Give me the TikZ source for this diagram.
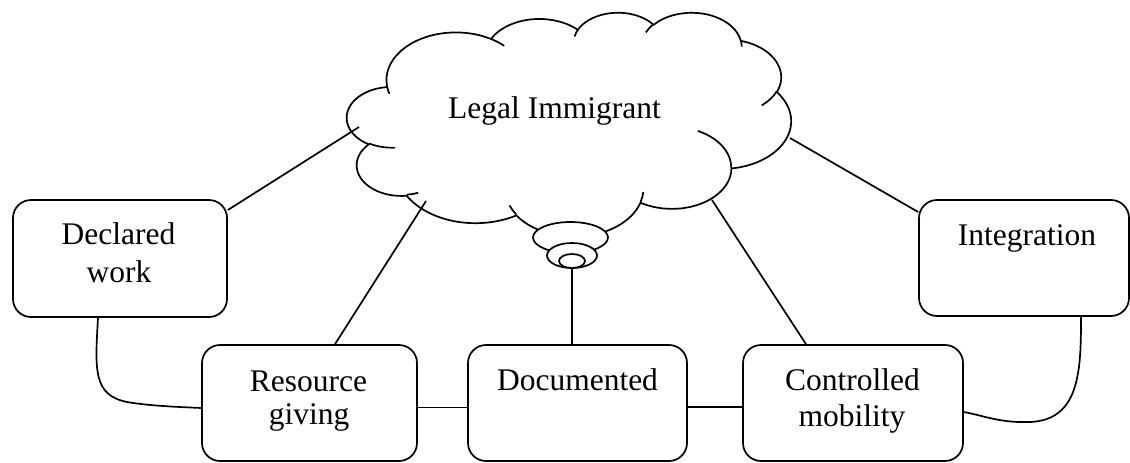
\documentclass[tikz,border=0pt]{standalone}
\usepackage{fontspec}
\setmainfont{Liberation Serif}
\usetikzlibrary{calc,shapes.geometric}
\newcommand\cldarc[4]{arc[x radius=#1, y radius=#2, start angle={atan2(#1*sin(#3),#2*cos(#3))}, delta angle={mod(atan2(#1*sin(#3+#4),#2*cos(#3+#4))-atan2(#1*sin(#3),#2*cos(#3))+720,360)}]}
\begin{document}
\begin{tikzpicture}[x=1pt,y=-1pt,line width=1.7pt,line join=round,
  box/.style={draw,rounded corners=18pt,fill=white,inner sep=0pt},
  bub/.style={draw,ellipse,fill=white,inner sep=0pt},
  lbl/.style={anchor=base,inner sep=0pt,font=\fontsize{31.5}{36}\selectfont}]
\useasboundingbox (0,0) rectangle (1130,463);
% cloud
\begin{scope}[shift={(347,12)},xscale=10.278,yscale=5.18]
\draw[fill=white] (3.9,14.37)
  \cldarc{6.753}{9.190}{-190.4875}{123.7805}
  \cldarc{5.333}{7.267}{-144.1024}{89.9452}
  \cldarc{4.365}{5.945}{-145.8079}{99.7230}
  \cldarc{4.857}{6.595}{-130.9861}{117.2417}
  \cldarc{5.333}{7.273}{-78.7089}{109.0269}
  \cldarc{6.775}{9.220}{-46.2673}{130.2690}
  \cldarc{5.785}{7.867}{0.6250}{114.0333}
  \cldarc{6.752}{9.215}{22.4516}{115.1726}
  \cldarc{7.720}{10.543}{66.2426}{75.7110}
  \cldarc{4.360}{5.918}{-274.9421}{146.7356}
  \cldarc{4.345}{5.945}{-246.8285}{152.5189} -- cycle;
\draw (4.693,26.177) \cldarc{4.345}{5.945}{86.7420}{26.4295}
  (6.928,34.899) \cldarc{4.360}{5.918}{73.6105}{11.4475}
  (16.478,39.090) \cldarc{6.752}{9.215}{137.6242}{14.0811}
  (28.827,34.751) \cldarc{6.752}{9.215}{6.4533}{15.9984}
  (34.129,22.954) \cldarc{5.785}{7.867}{-70.2924}{70.9174}
  (41.798,15.354) \cldarc{5.333}{7.273}{30.3180}{27.7515}
  (38.324,5.426) \cldarc{4.857}{6.595}{-13.7443}{14.8589}
  (29.078,3.952) \cldarc{4.857}{6.595}{-149.1815}{18.1954}
  (22.141,4.720) \cldarc{4.365}{5.945}{-163.4943}{17.6864}
  (14.000,5.192) \cldarc{6.753}{9.190}{-66.7070}{12.3194}
  (4.127,15.789) \cldarc{6.753}{9.190}{157.6544}{11.8582};
\end{scope}
\node[lbl] (li) at (554.5,118) {Legal Immigrant};
% callout bubbles
\node[bub,minimum width=75,minimum height=31] (t1) at (570.5,237.5) {};
\node[bub,minimum width=50,minimum height=25] (t2) at (572,255.5) {};
\node[bub,minimum width=26,minimum height=14] (t3) at (572,261) {};
% boxes
\node[box,minimum width=214,minimum height=117] (dw) at (120,258.5) {};
\node[box,minimum width=210,minimum height=116] (integ) at (1024,258) {};
\node[box,minimum width=215,minimum height=116] (rg) at (309.5,403) {};
\node[box,minimum width=219,minimum height=116] (doc) at (577.5,403) {};
\node[box,minimum width=220,minimum height=116] (cm) at (853,403) {};
% labels
\node[lbl] (dw1) at (118.5,244.5) {Declared};
\node[lbl] (dw2) at (119,282) {work};
\node[lbl] (in1) at (1027,245) {Integration};
\node[lbl] (rg1) at (308.5,391) {Resource};
\node[lbl] (rg2) at (309,424.5) {giving};
\node[lbl] (do1) at (577.5,390) {Documented};
\node[lbl] (cm1) at (852.5,390) {Controlled};
\node[lbl] (cm2) at (852,426) {mobility};
% cloud attach points
\coordinate (cA) at (359,127);
\coordinate (cB) at (426,201);
\coordinate (cC) at (712,200);
\coordinate (cD) at (790,138);
% connectors
\draw (cA) -- ($(dw.east)+(0,-48.5)$);
\draw (cB) -- ($(rg.north)+(25.5,0)$);
\draw (t3.south) -- (t3.south |- doc.north);
\draw (cC) -- ($(cm.north)+(-47,0)$);
\draw (cD) -- ($(integ.west)+(0,-46)$);
\draw ($(rg.east)+(0,4.5)$) -- ($(doc.west)+(0,4.5)$);
\draw ($(doc.east)+(0,4)$) -- ($(cm.west)+(0,4)$);
\draw ($(dw.south)+(-22,0)$) .. controls (95,370) and (93,395) .. (127,402)
  .. controls (150,406) and (180,407) .. ($(rg.west)+(0,5)$);
\draw ($(integ.south)+(57,0)$) .. controls (1081,370) and (1080,420) .. (1030,422)
  .. controls (1000,423) and (985,416) .. ($(cm.east)+(0,9)$);
\end{tikzpicture}
\end{document}
